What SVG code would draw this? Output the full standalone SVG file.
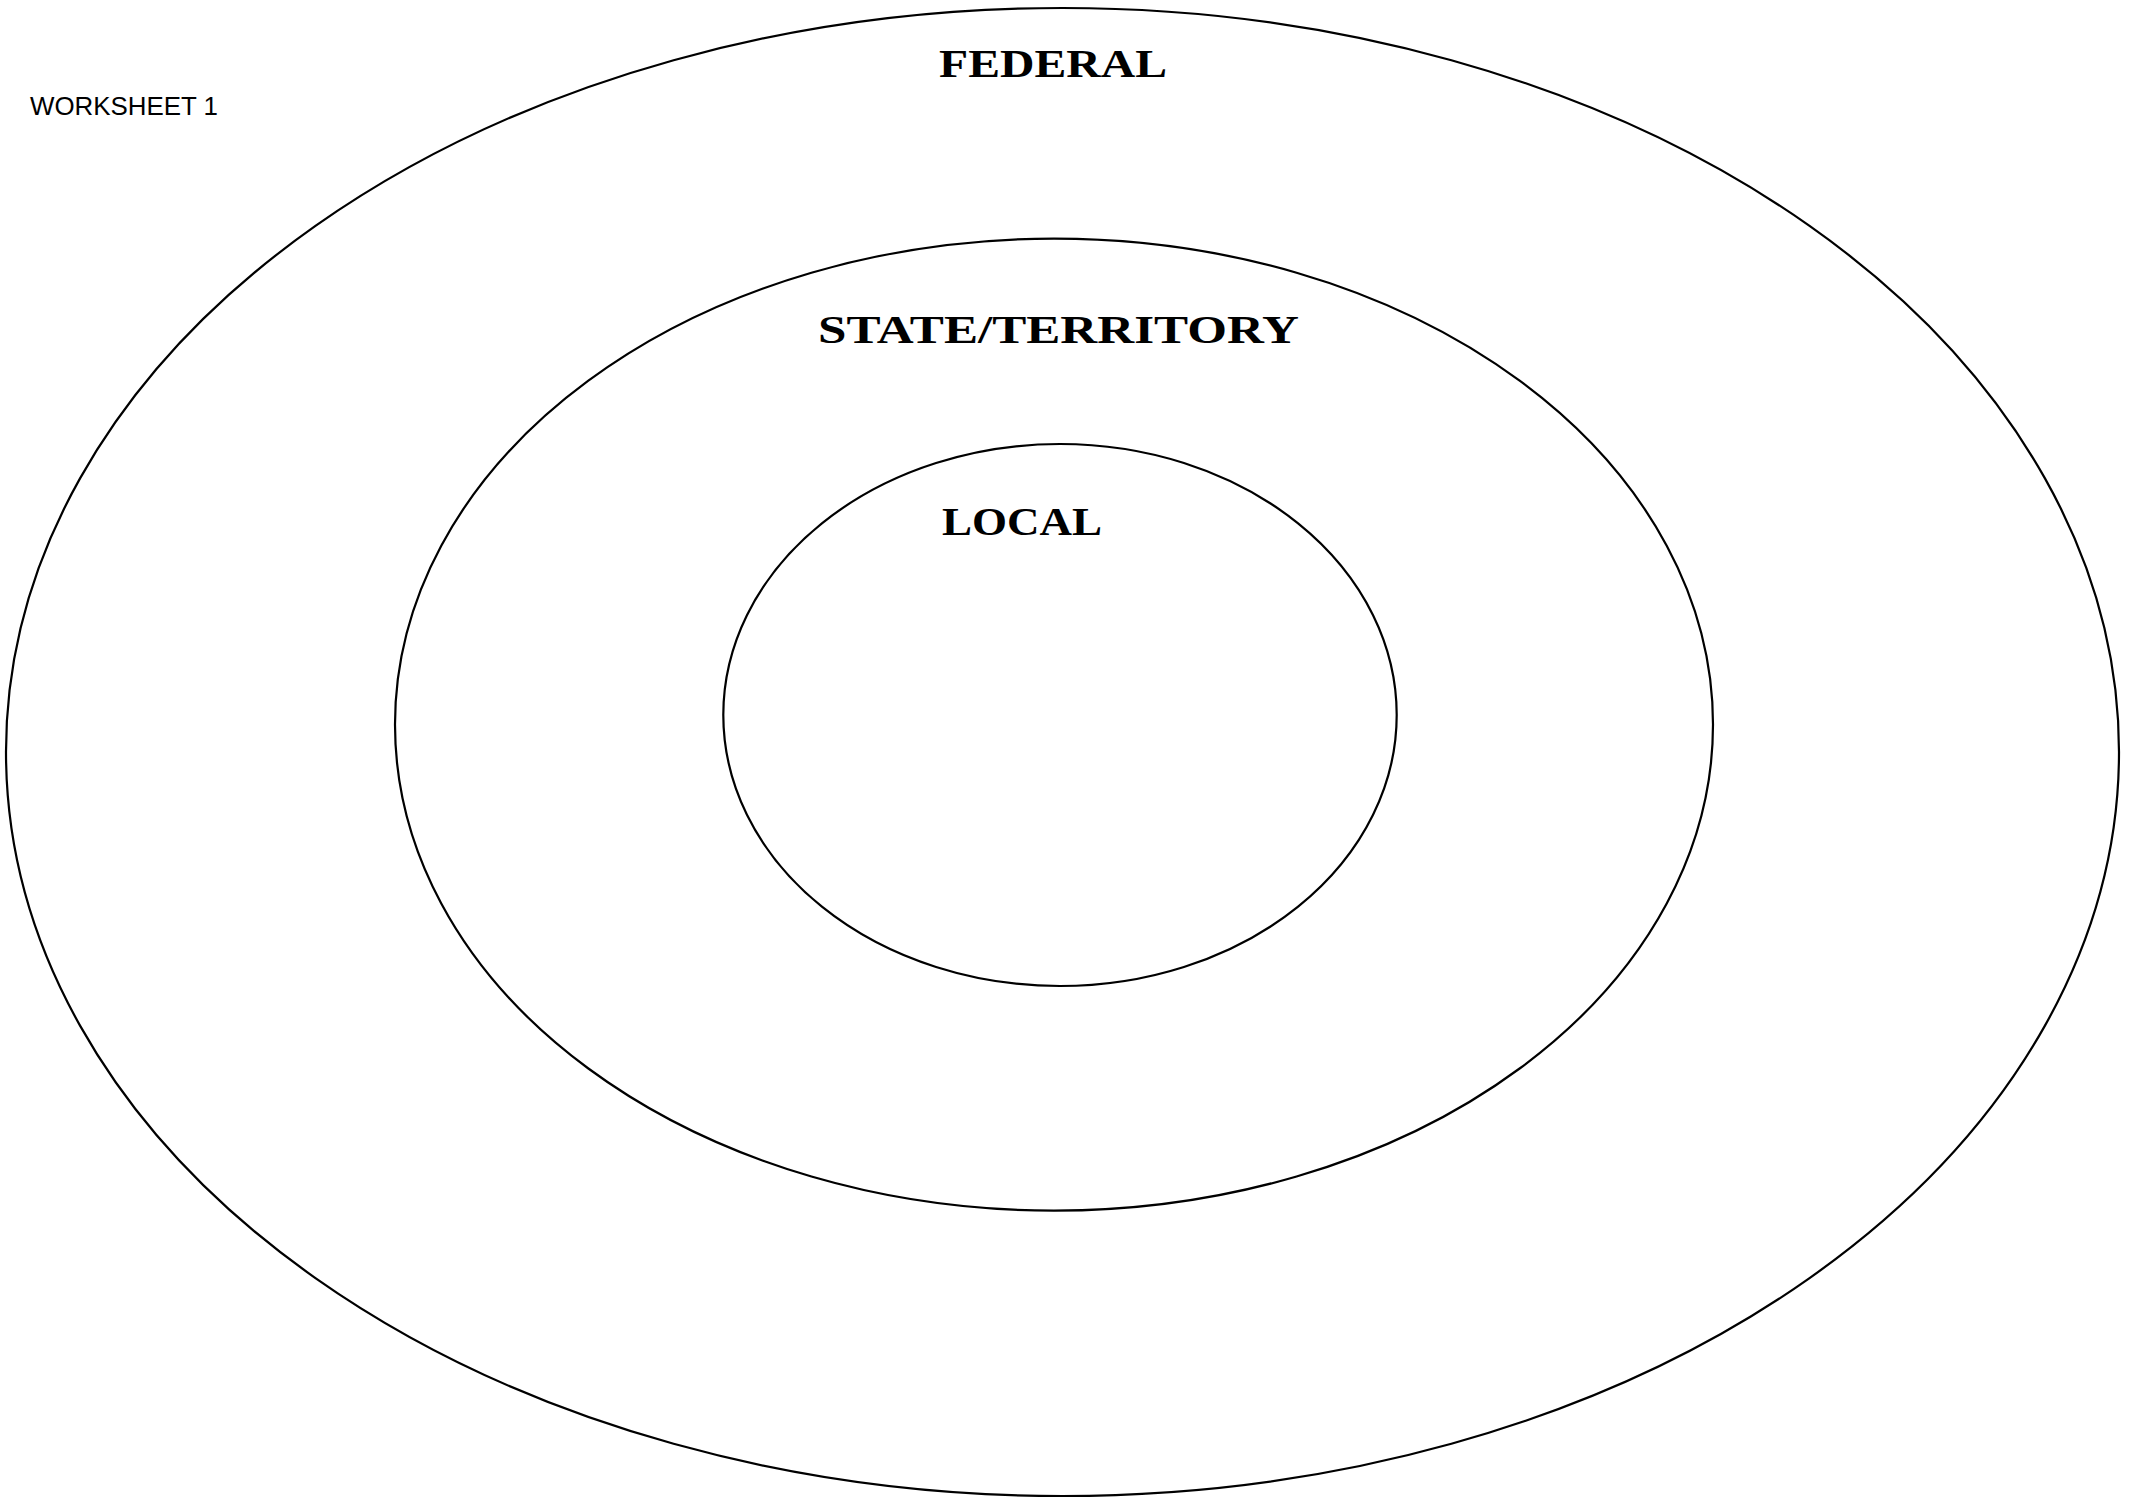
<svg xmlns="http://www.w3.org/2000/svg" width="2136" height="1498" viewBox="0 0 2136 1498">
<style>
.ring{fill:none;stroke:#000;stroke-width:2.2}
.lvl{font-family:"Liberation Serif","Times New Roman",serif;font-weight:bold;font-size:40px;fill:#000}
.lbl{font-family:"Liberation Sans",Arial,sans-serif;font-size:25.6px;fill:#000}
</style>
<rect width="2136" height="1498" fill="#fff"/>
<g id="worksheet-label"><text class="lbl" x="30" y="115" textLength="188" lengthAdjust="spacingAndGlyphs">WORKSHEET 1</text></g>
<g id="federal">
<ellipse class="ring" cx="1062.5" cy="752" rx="1056.5" ry="744"/>
<text class="lvl" x="939" y="76.5" textLength="228" lengthAdjust="spacingAndGlyphs">FEDERAL</text>
</g>
<g id="state">
<ellipse class="ring" cx="1054" cy="724.6" rx="659" ry="486"/>
<text class="lvl" x="818" y="343" textLength="481" lengthAdjust="spacingAndGlyphs">STATE/TERRITORY</text>
</g>
<g id="local">
<ellipse class="ring" cx="1060" cy="715" rx="336.7" ry="271"/>
<text class="lvl" x="942" y="535" textLength="160" lengthAdjust="spacingAndGlyphs">LOCAL</text>
</g>
<g id="connectors"/>
</svg>
